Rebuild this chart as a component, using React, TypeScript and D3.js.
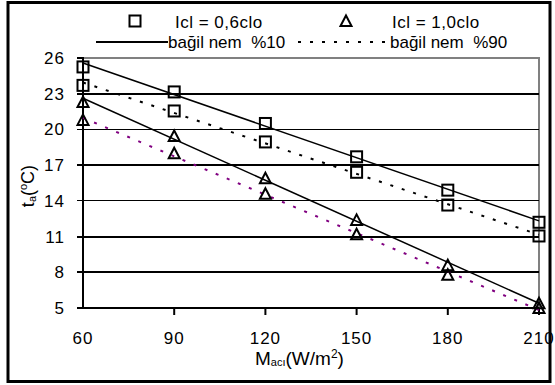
import * as d3 from 'd3'

// activity level (W/m²)
const mAct = [60, 90, 120, 150, 180, 210]
// air temperature t_a (°C)
const sq10 = [25.25, 23.15, 20.5, 17.7, 14.9, 12.2]   // Icl 0.6clo, RH 10%
const sq90 = [23.7, 21.55, 18.95, 16.4, 13.65, 11.05] // Icl 0.6clo, RH 90%
const tr10 = [22.3, 19.45, 15.9, 12.4, 8.6, 5.4]      // Icl 1.0clo, RH 10%
const tr90 = [20.8, 18.0, 14.6, 11.2, 7.8, 5.0]       // Icl 1.0clo, RH 90%

const yTicks = [5, 8, 11, 14, 17, 20, 23, 26]
const thinGrid = [14, 20]

const W = 555, H = 385
const m = { l: 83, r: 16, t: 58, b: 77 }
const FONT = '"Liberation Sans", Arial, sans-serif'
const DOT = '3 9'

// excel style linear trendline
function fit(ys: number[]) {
  const mx = d3.mean(mAct)!, my = d3.mean(ys)!
  let sxy = 0, sxx = 0
  mAct.forEach((x, i) => { sxy += (x - mx) * (ys[i] - my); sxx += (x - mx) ** 2 })
  const k = sxy / sxx
  return (x: number) => my + k * (x - mx)
}

const x = d3.scaleLinear().domain([60, 210]).range([m.l, W - m.r])
const y = d3.scaleLinear().domain([5, 26]).range([H - m.b, m.t])

function Square({ cx, cy }: { cx: number, cy: number }) {
  return <rect x={cx - 5.5} y={cy - 5.5} width={11} height={11} fill="none" stroke="#000" strokeWidth={2}/>
}

function Tri({ cx, cy }: { cx: number, cy: number }) {
  const p = d3.path()
  p.moveTo(cx, cy - 5.5); p.lineTo(cx + 5.5, cy + 5); p.lineTo(cx - 5.5, cy + 5); p.closePath()
  return <path d={p.toString()} fill="none" stroke="#000" strokeWidth={2} strokeLinejoin="miter"/>
}

function Trend({ ys, color, dash }: { ys: number[], color: string, dash?: string }) {
  const f = fit(ys)
  const line = d3.line<number>().x(v => x(v)).y(v => y(f(v)))
  return <path d={line([60, 210])!} fill="none" stroke={color} strokeWidth={dash ? 2 : 1.5}
    strokeDasharray={dash}/>
}

export default function App() {
  const x0 = x(60), x1 = x(210)
  return (
    <svg width={W} height={H} style={{ position: 'absolute', left: 0, top: 0, background: '#fff' }}
      fontFamily={FONT}>
      <rect x={0} y={0} width={W} height={H} fill="#fff"/>
      {/* outer frame */}
      <rect x={8} y={2.5} width={542} height={379} fill="none" stroke="#000" strokeWidth={3}/>

      {/* plot area border */}
      <rect x={x0} y={y(26)} width={x1 - x0} height={y(5) - y(26)} fill="none" stroke="#808080" strokeWidth={2}/>

      {/* gridlines */}
      {yTicks.filter(t => t !== 26).map(t => (
        <line key={t} x1={x0 - 6} x2={x1} y1={y(t)} y2={y(t)} stroke="#000"
          strokeWidth={thinGrid.includes(t) ? 1 : 2} shapeRendering="crispEdges"/>
      ))}
      <line x1={x0 - 6} x2={x0} y1={y(26)} y2={y(26)} stroke="#000" strokeWidth={2}/>
      <line x1={x0} x2={x0} y1={y(26) - 1} y2={y(5) + 1} stroke="#000" strokeWidth={2}/>
      {mAct.slice(1).map(v => (
        <line key={v} x1={x(v)} x2={x(v)} y1={y(5)} y2={y(5) + 7} stroke="#000" strokeWidth={2}/>
      ))}

      {/* tick labels */}
      {yTicks.map(t => (
        <text key={t} x={65} y={y(t) + 6} textAnchor="end" fontSize={17} letterSpacing={1}>{t}</text>
      ))}
      {mAct.map(v => (
        <text key={v} x={x(v)} y={344} textAnchor="middle" fontSize={17} letterSpacing={1}>{v}</text>
      ))}

      {/* trendlines */}
      <Trend ys={sq10} color="#000"/>
      <Trend ys={sq90} color="#000" dash={DOT}/>
      <Trend ys={tr10} color="#000"/>
      <Trend ys={tr90} color="#800080" dash={DOT}/>

      {/* markers */}
      {mAct.map((v, i) => <Square key={'a' + v} cx={x(v)} cy={y(sq10[i])}/>)}
      {mAct.map((v, i) => <Square key={'b' + v} cx={x(v)} cy={y(sq90[i])}/>)}
      {mAct.map((v, i) => <Tri key={'c' + v} cx={x(v)} cy={y(tr10[i])}/>)}
      {mAct.map((v, i) => <Tri key={'d' + v} cx={x(v)} cy={y(tr90[i])}/>)}

      {/* axis titles */}
      <text x={255} y={365} fontSize={19}>
        M<tspan fontSize={11} dy={1}>acı</tspan><tspan dy={-1}>(W/m</tspan><tspan fontSize={12} dy={-7}>2</tspan><tspan dy={7}>)</tspan>
      </text>
      <text transform="translate(34,186) rotate(-90)" textAnchor="middle" fontSize={18}>
        t<tspan fontSize={11} dy={2}>a</tspan><tspan dy={-2}>(</tspan><tspan fontSize={11} dy={-7}>o</tspan><tspan dy={7}>C)</tspan>
      </text>

      {/* legend */}
      <Square cx={135} cy={21}/>
      <text x={175} y={28} fontSize={17} letterSpacing={0.5}>Icl = 0,6clo</text>
      <Tri cx={346} cy={21}/>
      <text x={392} y={28} fontSize={17} letterSpacing={0.5}>Icl = 1,0clo</text>
      <line x1={96} x2={168} y1={42} y2={42} stroke="#000" strokeWidth={2}/>
      <text x={168} y={48} fontSize={17} style={{ whiteSpace: 'pre' }}>bağil nem  %10</text>
      <line x1={298} x2={390} y1={42} y2={42} stroke="#000" strokeWidth={2} strokeDasharray={DOT}/>
      <text x={390} y={48} fontSize={17} style={{ whiteSpace: 'pre' }}>bağil nem  %90</text>
    </svg>
  )
}
